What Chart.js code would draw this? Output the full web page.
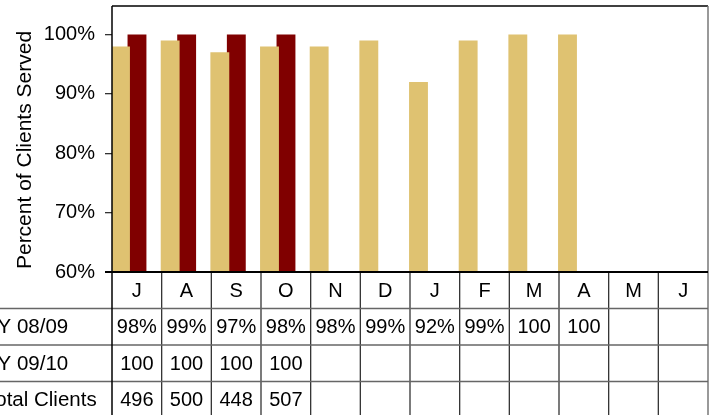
<!DOCTYPE html>
<html>
<head>
<meta charset="utf-8">
<script src="https://cdn.jsdelivr.net/npm/chart.js@4/dist/chart.umd.min.js"></script>
<style>
  html, body { margin: 0; padding: 0; background: #fff; }
  #wrap { width: 715px; height: 415px; position: relative; }
</style>
</head>
<body>
<div id="wrap"><canvas id="c"></canvas></div>
<script>
// ---- data ----
const months = ['J','A','S','O','N','D','J','F','M','A','M','J'];
const fy0809 = [98, 99, 97, 98, 98, 99, 92, 99, 100, 100];
const fy0910 = [100, 100, 100, 100];
const totalClients = [496, 500, 448, 507];
const rowLabels = ['FY 08/09', 'FY 09/10', 'Total Clients'];
const yTicks = [60, 70, 80, 90, 100];
const yTitle = 'Percent of Clients Served';

const FONT = '"Liberation Sans", Arial, sans-serif';
const GOLD = '#DFC271';
const MAROON = '#800000';

const toPoints = arr => arr.map((v, i) => ({ x: i, y: v }));
const fmtPct = v => (v >= 100 ? String(v) : v + '%');

const tableRows = [
  fy0809.map(fmtPct),
  fy0910.map(String),
  totalClients.map(String)
];

const tablePlugin = {
  id: 'tablePlugin',
  afterDatasetsDraw(chart) {
    const ctx = chart.ctx;
    const a = chart.chartArea;
    const n = months.length;
    const colW = (a.right - a.left) / n;
    const rowH = 36.5;
    const H = chart.height;
    ctx.save();
    // plot frame
    ctx.strokeStyle = '#000';
    ctx.lineWidth = 1.5;
    ctx.beginPath();
    ctx.moveTo(a.left, a.top); ctx.lineTo(a.right, a.top);
    ctx.stroke();
    ctx.strokeStyle = '#777';
    ctx.beginPath();
    ctx.moveTo(a.right, a.top); ctx.lineTo(a.right, H);
    ctx.stroke();
    // vertical table lines
    ctx.strokeStyle = '#333';
    ctx.lineWidth = 1.3;
    for (let k = 1; k < n; k++) {
      const x = a.left + k * colW;
      ctx.beginPath(); ctx.moveTo(x, a.bottom); ctx.lineTo(x, H); ctx.stroke();
    }
    // horizontal row lines
    ctx.strokeStyle = '#666';
    ctx.lineWidth = 1.3;
    for (let r = 1; r <= 3; r++) {
      const y = a.bottom + r * rowH;
      ctx.beginPath(); ctx.moveTo(0, y); ctx.lineTo(a.right, y); ctx.stroke();
    }
    // left axis line + bottom axis line
    ctx.strokeStyle = '#000';
    ctx.lineWidth = 1.5;
    ctx.beginPath(); ctx.moveTo(a.left, a.top); ctx.lineTo(a.left, H); ctx.stroke();
    ctx.lineWidth = 2;
    ctx.beginPath(); ctx.moveTo(a.left - 7, a.bottom); ctx.lineTo(a.right, a.bottom); ctx.stroke();

    // texts
    ctx.fillStyle = '#000';
    ctx.font = '20px ' + FONT;
    ctx.textBaseline = 'middle';
    ctx.textAlign = 'center';
    months.forEach((m, i) => {
      ctx.fillText(m, a.left + (i + 0.5) * colW, a.bottom + rowH / 2 + 1);
    });
    tableRows.forEach((row, r) => {
      const yc = a.bottom + (r + 1) * rowH + rowH / 2 + 1;
      row.forEach((t, i) => {
        ctx.fillText(t, a.left + (i + 0.5) * colW, yc);
      });
    });
    ctx.font = '20.5px ' + FONT;
    ctx.textAlign = 'left';
    rowLabels.forEach((t, r) => {
      const yc = a.bottom + (r + 1) * rowH + rowH / 2 + 1;
      ctx.fillText(t, -15, yc);
    });

    // y-axis title
    ctx.font = '21px ' + FONT;
    ctx.textAlign = 'center';
    ctx.translate(25, 150);
    ctx.rotate(-Math.PI / 2);
    ctx.fillText(yTitle, 0, 0);
    ctx.restore();
  }
};

new Chart(document.getElementById('c'), {
  type: 'bar',
  data: {
    datasets: [
      { label: 'FY 08/09', data: toPoints(fy0809), backgroundColor: GOLD, borderWidth: 0 },
      { label: 'FY 09/10', data: toPoints(fy0910), backgroundColor: MAROON, borderWidth: 0 }
    ]
  },
  options: {
    responsive: true,
    maintainAspectRatio: false,
    animation: false,
    events: [],
    categoryPercentage: 0.664,
    barPercentage: 1.145,
    layout: { padding: { left: 0, top: 6, right: 7, bottom: 143 } },
    plugins: { legend: { display: false }, tooltip: { enabled: false } },
    scales: {
      x: {
        type: 'linear',
        offset: false,
        min: -0.337,
        max: 11.663,
        ticks: { display: false, stepSize: 1 },
        grid: { display: false, offset: false },
        border: { display: false },
        afterBuildTicks: s => { s.ticks = months.map((m, i) => ({ value: i })); },
        afterFit: s => { s.height = 0; s.paddingLeft = 0; s.paddingRight = 0; }
      },
      y: {
        min: 60,
        max: 104.8,
        afterBuildTicks: s => { s.ticks = yTicks.map(v => ({ value: v })); },
        afterFit: s => { s.width = 112; s.paddingTop = 0; s.paddingBottom = 0; },
        ticks: {
          color: '#000',
          padding: 10,
          font: { family: FONT, size: 20 },
          callback: v => v + '%'
        },
        grid: { drawOnChartArea: false, drawTicks: true, tickLength: 7, color: '#333', lineWidth: 1.3 },
        border: { display: false }
      }
    }
  },
  plugins: [tablePlugin]
});
</script>
</body>
</html>
